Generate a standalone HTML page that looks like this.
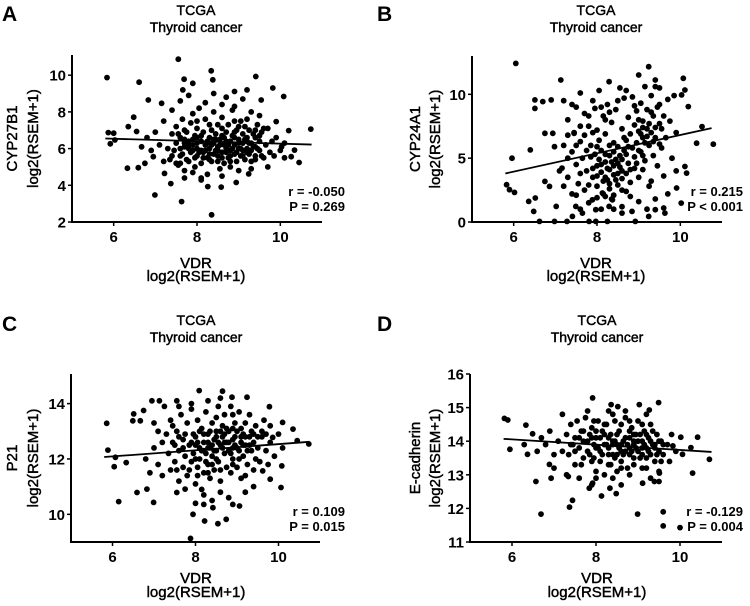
<!DOCTYPE html>
<html><head><meta charset="utf-8"><style>
html,body{margin:0;padding:0;background:#fff;}
svg{display:block;font-family:"Liberation Sans",Arial,sans-serif;}
.t{stroke:#000;stroke-width:0.45px;}
</style></head><body>
<svg id="fig" width="750" height="606" viewBox="0 0 750 606"></svg>
<script>
const xTicks=[6,8,10];
const yTicksA=[2,4,6,8,10], yTicksB=[0,5,10], yTicksC=[10,12,14], yTicksD=[11,12,13,14,15,16];
const yLabelA="CYP27B1", yLabelB="CYP24A1", yLabelC="P21", yLabelD="E-cadherin";
const statsA=["r = -0.050","P = 0.269"], statsB=["r = 0.215","P < 0.001"], statsC=["r = 0.109","P = 0.015"], statsD=["r = -0.129","P = 0.004"];
const fitA=[6.55,6.22], fitB=[3.8,7.35], fitC=[12.07,12.62], fitD=[14.07,13.68];
const pointsA=[[5.84,9.87],[5.87,6.87],[6,6.84],[5.92,6.26],[6.03,6.47],[6.61,9.62],[6.33,4.93],[6.59,4.96],[6.99,3.47],[7.55,10.87],[8.34,10.24],[8.38,9.75],[9.41,9.93],[9.82,9.3],[10.08,8.84],[10.73,7.06],[10.2,6.98],[10.45,5.24],[7.37,4.09],[7.63,3.11],[8.35,2.39],[8.58,3.9],[9.24,4.62],[8.94,4.15],[6.48,7.71],[6.83,8.65],[7.15,8.47],[7.69,9.78],[7.9,9.56],[7.66,9.2],[8.9,9.11],[9.2,9.2],[9.54,8.65],[9.9,7.47],[10.03,6.1],[10.34,5.92],[10.26,5.56],[9.7,5.0],[7.22,4.65],[8.1,4.29],[8.26,3.93],[6.95,5.56],[6.75,5.2],[6.67,6.1],[6.35,7.2],[6.55,6.93],
[7.3,6.0],[7.35,5.4],[7.4,6.8],[7.45,5.9],[7.5,6.3],[7.5,7.2],[7.55,5.1],[7.6,6.6],[7.6,5.6],[7.65,7.6],[7.7,6.1],[7.7,4.8],[7.75,6.9],[7.8,5.3],[7.8,6.4],[7.85,7.4],[7.9,5.9],[7.9,6.2],[7.95,5.0],[7.95,6.7],[8.0,5.6],[8.0,7.1],[8.0,6.0],[8.05,8.2],[8.1,5.2],[8.1,6.4],[8.15,6.9],[8.15,5.8],[8.2,6.2],[8.2,7.6],[8.25,5.5],[8.25,4.6],[8.3,6.6],[8.3,6.0],[8.35,7.0],[8.35,5.3],[8.4,6.3],[8.4,8.0],[8.45,5.9],[8.45,6.8],[8.5,5.6],[8.5,7.3],[8.5,6.1],[8.55,4.9],[8.55,6.5],[8.6,5.8],[8.6,7.7],[8.65,6.2],[8.65,5.2],[8.7,6.9],[8.7,6.0],[8.75,5.5],[8.75,7.3],[8.8,6.4],[8.8,5.9],[8.85,8.1],[8.85,6.7],[8.9,5.7],[8.9,6.2],[8.95,7.0],[8.95,5.3],[9.0,6.5],[9.0,6.0],[9.05,7.5],[9.05,5.6],[9.1,6.3],[9.1,6.8],[9.15,5.4],[9.15,7.2],[9.2,6.0],[9.2,6.6],[9.25,5.7],[9.25,7.0],[9.3,6.3],[9.3,5.3],[9.35,6.8],[9.4,6.1],[9.4,5.6],[9.45,7.3],[9.5,6.4],[9.5,5.9],[9.55,6.9],[9.6,5.5],[9.65,6.2],[9.7,7.1],[9.75,5.8],[9.8,6.4],[9.85,5.6],[9.9,6.6],[10.0,5.9],[10.1,6.3],[10.1,5.5],
[7.2,7.5],[7.1,6.2],[7.0,6.9],[6.9,5.9],[6.8,6.6],[7.2,5.3],[7.4,8.1],[7.6,8.6],[7.8,8.9],[7.9,7.9],[8.2,8.5],[8.4,9.0],[8.6,8.4],[8.7,8.8],[8.9,8.3],[9.1,8.7],[9.3,8.0],[9.5,7.8],[9.6,7.1],[9.3,4.9],[9.0,4.8],[8.8,5.0],[8.6,4.5],[8.1,4.4],[7.9,4.7],[7.7,4.4],[7.5,5.2],[8.3,5.7],[8.0,6.6],[8.9,6.9],[9.0,7.2],[8.4,6.5],[8.7,6.4],[8.6,6.7],[8.3,6.3],[8.1,5.9],[7.8,6.0],[7.7,6.3],[9.2,6.4],[9.4,6.6],[8.5,5.3],[8.8,5.6],[9.1,5.9],
[7.6,6.0],[7.65,5.7],[7.7,6.5],[7.75,5.4],[7.8,6.2],[7.85,5.8],[7.9,6.5],[7.95,5.5],[8.0,6.3],[8.05,5.8],[8.1,6.7],[8.15,5.5],[8.2,5.9],[8.25,6.4],[8.3,5.4],[8.35,6.2],[8.4,5.7],[8.45,6.5],[8.5,5.9],[8.55,6.2],[8.6,5.5],[8.65,6.6],[8.7,5.8],[8.75,6.2],[8.8,5.3],[8.85,6.0],[8.9,6.6],[8.95,5.8],[9.0,6.3],[9.05,6.0],[9.1,5.6],[9.15,6.5],[9.2,5.8],[9.25,6.3],[9.3,5.9],[9.35,6.1],[9.4,5.4],[9.45,6.0],[9.5,6.7],[9.55,5.6],[7.55,6.8],[7.7,7.0],[8.0,7.5],[8.3,7.3],[8.6,7.1],[8.9,7.5],[9.2,7.6],[9.4,7.0],[7.4,5.6],[7.6,5.2]];
const pointsB=[[5.83,2.92],[5.9,2.53],[6.02,2.32],[5.96,5.0],[6.05,12.42],[6.4,5.65],[6.51,9.56],[6.51,8.9],[6.7,9.43],[6.9,9.56],[7.13,11.12],[6.36,1.61],[6.48,0.83],[6.62,0.05],[6.52,1.88],[6.75,3.18],[6.86,2.79],[6.98,0.05],[7.02,1.22],[7.28,0.05],[6.98,5.9],[6.75,6.95],[6.94,6.95],[7.16,4.22],[7.45,6.95],[10.79,6.09],[10.39,6.17],[10.52,7.47],[10.03,9.95],[10.07,11.25],[10.11,10.34],[10.19,9.04],[10.11,4.35],[10.15,3.83],[10.02,1.48],[9.91,2.66],[9.4,11.12],[9.0,11.51],[9.24,12.16],[8.29,10.99],[9.63,0.7],[9.4,0.96],[9.24,0.44],[8.92,0.05],[8.84,0.83],[8.6,0.7],[8.25,0.05],[7.97,0.05],[7.81,0.05],[7.65,0.7],[7.97,0.96],[8.29,1.22],[8.37,1.74],[7.89,1.74],[7.41,0.44],[7.49,1.22],[8.13,2.27],
[7.3,3.5],[7.3,8.0],[7.4,5.5],[7.4,2.2],[7.45,7.0],[7.5,9.0],[7.5,4.5],[7.55,3.0],[7.6,6.3],[7.6,10.1],[7.65,5.0],[7.7,8.5],[7.7,2.5],[7.75,4.0],[7.8,7.5],[7.8,1.5],[7.85,6.0],[7.9,9.5],[7.9,3.5],[7.95,5.3],[8.0,4.4],[8.0,7.2],[8.0,2.8],[8.05,10.3],[8.05,6.4],[8.1,3.9],[8.1,5.6],[8.15,8.3],[8.15,2.2],[8.2,4.7],[8.2,6.9],[8.25,3.3],[8.25,9.2],[8.3,5.2],[8.3,4.1],[8.35,7.8],[8.35,1.8],[8.4,6.2],[8.4,3.7],[8.45,8.8],[8.45,4.9],[8.5,2.9],[8.5,5.9],[8.55,10.5],[8.55,4.3],[8.6,7.3],[8.6,3.4],[8.65,6.6],[8.65,9.7],[8.7,2.4],[8.7,5.3],[8.75,8.2],[8.75,4.6],[8.8,6.9],[8.8,3.1],[8.85,9.8],[8.85,5.8],[8.9,7.6],[8.9,4.2],[8.95,8.7],[8.95,6.2],[9.0,7.1],[9.0,3.5],[9.05,9.3],[9.05,5.5],[9.1,7.9],[9.1,6.6],[9.15,10.6],[9.15,4.8],[9.2,7.3],[9.2,8.8],[9.25,6.0],[9.25,2.8],[9.3,9.9],[9.3,7.0],[9.35,5.2],[9.35,8.3],[9.4,10.6],[9.4,6.6],[9.45,4.4],[9.5,7.7],[9.5,9.2],[9.55,5.8],[9.6,3.6],[9.6,8.3],[9.65,6.6],[9.7,2.2],[9.75,7.9],[9.8,5.0],[9.85,9.9],[9.9,4.0],[9.9,7.0],[9.7,9.6],[9.5,10.5],[8.2,8.0],[8.1,9.0],[7.9,7.0],[7.6,7.5],[7.4,9.2],[7.3,5.0],[7.2,6.0],[7.2,2.8],[7.1,4.0],[8.4,5.5],[8.6,4.9],[8.3,6.0],[8.0,5.9],[8.2,3.5],[8.5,3.8],[8.7,6.4],[8.9,5.1],[9.1,4.1],[9.3,3.2],[9.0,1.6],[8.8,2.0],[8.6,1.2],[8.4,1.0],[8.3,2.6],[8.1,1.0],[7.8,2.9],[7.6,1.0],[7.5,2.1],[9.2,1.0],[9.4,1.8],[9.6,1.1],
[8.0,3.6],[8.05,4.9],[8.1,4.5],[8.15,3.2],[8.2,5.3],[8.25,4.2],[8.3,3.0],[8.35,4.7],[8.4,4.4],[8.45,3.3],[8.5,4.6],[8.55,5.2],[8.6,4.0],[8.65,5.6],[8.7,3.8],[8.75,5.9],[7.9,4.2],[7.85,5.1],[7.75,5.6],[7.7,6.8],[7.8,8.3],[7.95,8.9],[8.3,8.6],[8.5,9.5],[8.7,10.3],[8.9,9.1],[9.0,8.0],[9.05,6.9],[9.1,7.4],[9.15,6.2],[9.2,6.7],[9.25,7.7],[9.3,8.6],[9.35,6.3],[9.4,7.4],[9.45,9.0],[9.5,6.1],[9.55,7.3],[9.0,5.6],[9.1,5.2],[8.95,4.6],[8.8,4.1],[8.6,2.5],[8.4,2.1],[8.2,2.0],[8.0,1.9],[7.6,3.8],[7.5,6.0],[7.3,6.8],[7.2,9.5]];
const pointsC=[[5.86,13.29],[5.89,12.32],[6.07,12.06],[6.04,11.72],[6.33,11.87],[6.15,10.46],[6.51,13.63],[6.49,13.38],[6.67,13.38],[6.59,10.79],[6.99,10.43],[6.83,10.91],[6.95,14.1],[7.13,14.1],[6.75,13.75],[7.55,14.1],[8.09,14.47],[8.65,14.45],[8.88,14.23],[9.24,14.23],[9.78,13.89],[7.88,9.13],[8.22,9.76],[8.54,9.66],[8.74,9.82],[7.94,10.0],[8.9,10.36],[9.06,10.3],[8.2,10.36],[8.42,10.24],[7.55,10.79],[7.75,10.91],[10.06,10.97],[10.08,11.75],[9.8,11.27],[9.62,11.57],[10.73,12.54],[10.45,12.66],[10.35,13.08],[10.1,13.32],[9.86,12.78],
[7.3,12.9],[7.35,12.2],[7.4,13.4],[7.4,11.6],[7.45,12.6],[7.5,11.9],[7.55,13.0],[7.6,12.3],[7.6,11.2],[7.65,13.6],[7.7,12.7],[7.7,11.7],[7.75,12.1],[7.8,13.3],[7.8,11.4],[7.85,12.5],[7.9,11.9],[7.9,13.8],[7.95,12.2],[8.0,11.1],[8.0,12.8],[8.05,13.4],[8.05,11.7],[8.1,12.4],[8.1,12.0],[8.15,13.1],[8.15,10.9],[8.2,12.6],[8.2,11.5],[8.25,13.7],[8.25,12.2],[8.3,11.8],[8.3,12.9],[8.35,12.4],[8.35,11.3],[8.4,13.3],[8.4,12.1],[8.45,12.7],[8.45,11.6],[8.5,13.0],[8.5,12.3],[8.55,13.9],[8.55,11.9],[8.6,12.5],[8.6,11.2],[8.65,13.2],[8.65,12.8],[8.7,12.2],[8.7,13.6],[8.75,11.7],[8.75,12.6],[8.8,13.0],[8.8,12.3],[8.85,13.9],[8.85,11.5],[8.9,12.7],[8.9,12.0],[8.95,13.3],[8.95,12.5],[9.0,11.7],[9.0,13.0],[9.05,12.3],[9.05,13.7],[9.1,12.6],[9.1,11.3],[9.15,12.9],[9.15,12.1],[9.2,13.3],[9.2,12.5],[9.25,11.8],[9.3,12.8],[9.3,13.6],[9.35,12.3],[9.4,12.9],[9.4,11.6],[9.45,13.2],[9.5,12.4],[9.55,11.9],[9.6,12.8],[9.65,13.4],[9.7,12.3],[9.75,11.8],[9.8,12.6],[9.9,12.1],[10.0,12.9],[10.1,12.4],[7.2,12.6],[7.1,13.0],[7.0,12.4],[6.9,11.5],[6.8,12.0],[7.2,11.4],[7.1,11.8],[7.0,13.3],[7.25,13.9],[7.6,13.9],[7.9,14.0],[8.3,14.1],[8.6,14.2],[8.8,10.6],[8.4,10.5],[8.2,10.7],[8.0,10.4],[8.6,10.8],[9.2,10.8],[9.4,11.0],[8.4,12.5],[8.7,12.9],[8.9,12.4],[8.3,12.6],[8.5,12.8],[9.1,12.8],[8.2,12.3],[8.0,12.5],
[7.9,12.6],[7.95,12.9],[8.0,12.0],[8.05,12.6],[8.1,13.0],[8.15,12.3],[8.2,12.9],[8.25,11.9],[8.3,12.4],[8.35,13.0],[8.4,11.8],[8.45,12.3],[8.5,12.0],[8.55,12.6],[8.6,13.0],[8.65,12.4],[8.7,12.6],[8.75,13.1],[8.8,12.6],[8.85,12.2],[8.9,13.1],[8.95,12.8],[9.0,12.4],[9.05,12.0],[9.1,13.1],[9.15,12.5],[9.2,12.8],[9.25,12.3],[9.3,12.5],[9.35,13.0],[9.4,12.6],[9.45,12.0],[9.5,12.8],[7.7,12.4],[7.75,12.9],[7.6,12.8],[7.5,12.5],[7.45,13.2],[7.55,11.6],[7.85,11.6],[8.05,11.4],[8.3,11.5],[8.6,11.6],[8.9,11.8],[9.2,11.4],[9.6,13.0],[9.7,12.9],[9.8,13.2],[8.5,13.5],[8.9,13.6]];
const pointsD=[[5.82,14.68],[5.9,14.63],[5.95,13.76],[6.33,14.48],[6.37,13.61],[6.57,12.8],[6.69,11.83],[6.49,14.22],[6.29,13.9],[6.89,13.31],[6.93,12.9],[7.34,12.95],[7.37,12.04],[7.44,12.24],[7.92,15.29],[8.36,15.09],[8.52,15.03],[9.03,15.09],[9.49,15.15],[9.27,14.93],[8.13,12.37],[8.48,12.44],[8.33,12.6],[7.84,12.6],[7.92,12.75],[8.99,11.83],[9.6,11.9],[9.6,11.48],[10.0,11.43],[10.7,13.46],[10.3,13.05],[10.42,14.12],[10.26,13.81],[10.06,13.61],[10.02,14.12],[9.83,13.86],[9.39,12.8],[9.11,12.75],[9.51,13.05],
[7.3,14.2],[7.35,13.6],[7.4,14.5],[7.45,13.9],[7.5,14.1],[7.5,13.3],[7.55,14.6],[7.6,13.8],[7.65,14.3],[7.7,13.5],[7.7,14.0],[7.75,14.7],[7.8,13.7],[7.85,14.2],[7.9,13.4],[7.9,14.4],[7.95,13.9],[8.0,13.1],[8.0,14.1],[8.05,14.6],[8.1,13.7],[8.1,13.4],[8.15,14.3],[8.2,13.9],[8.2,13.0],[8.25,14.5],[8.3,13.6],[8.3,14.1],[8.35,13.3],[8.4,14.8],[8.4,13.9],[8.45,13.5],[8.5,14.2],[8.5,13.1],[8.55,13.8],[8.6,14.5],[8.6,13.4],[8.65,14.0],[8.7,13.7],[8.7,14.7],[8.75,13.2],[8.8,14.1],[8.8,13.6],[8.85,14.4],[8.9,13.9],[8.9,13.3],[8.95,14.2],[9.0,13.7],[9.0,14.6],[9.05,13.5],[9.1,14.0],[9.1,13.2],[9.15,14.3],[9.2,13.8],[9.2,13.5],[9.25,14.1],[9.3,13.6],[9.3,14.5],[9.35,13.9],[9.4,13.4],[9.45,14.2],[9.5,13.7],[9.5,13.1],[9.55,14.0],[9.6,13.6],[9.7,13.9],[9.75,13.4],[9.8,14.2],[9.9,13.7],[7.2,13.7],[7.1,14.0],[7.0,13.6],[6.9,14.3],[6.8,13.9],[7.2,14.8],[7.0,13.2],[6.7,14.1],[6.6,13.7],[7.3,13.0],[7.6,12.9],[7.9,12.7],[8.0,12.9],[8.4,12.9],[8.6,12.7],[8.8,13.0],[9.3,12.9],[9.5,12.8],[7.8,14.9],[8.3,14.9],[8.7,14.9],[9.2,14.8],[8.4,14.0],[8.6,13.9],[8.9,14.0],[9.1,13.8],[8.2,14.2],[8.0,13.8],[8.5,13.6],[8.8,13.8],[9.4,13.9],
[7.8,14.0],[7.85,13.6],[7.9,14.1],[7.95,13.5],[8.0,14.3],[8.05,13.8],[8.1,14.1],[8.15,13.6],[8.2,14.5],[8.25,13.9],[8.3,13.8],[8.35,14.2],[8.4,13.6],[8.45,14.0],[8.5,13.9],[8.55,14.3],[8.6,13.7],[8.65,13.6],[8.7,14.1],[8.75,13.9],[8.8,14.3],[8.85,13.7],[8.9,14.2],[8.95,13.8],[9.0,14.0],[9.05,14.2],[9.1,13.6],[9.15,13.9],[9.2,14.2],[9.25,13.7],[9.3,14.0],[9.35,14.3],[9.4,13.8],[9.45,13.6],[9.5,14.0],[9.55,13.4],[9.6,13.9],[7.7,14.3],[7.6,14.1],[7.5,13.7],[7.4,13.9],[7.65,13.3],[8.3,13.3],[8.6,13.2],[8.9,13.5],[9.2,13.2],[8.45,14.6],[8.8,14.6],[9.1,14.5],[7.95,14.6]];

const NS="http://www.w3.org/2000/svg";
const svg=document.getElementById('fig');
function mk(tag,attrs,parent,text){const e=document.createElementNS(NS,tag);for(const k in attrs)e.setAttribute(k,attrs[k]);if(text!==undefined)e.textContent=text;(parent||svg).appendChild(e);return e;}

const panels=[
 {id:'a',letter:'A',lx:2,ax:72,ay:222,top:55,right:322,yMin:2,yMax:11.1,yt:yTicksA,lab:yLabelA,st:statsA,fit:fitA,pts:pointsA,cx:196,ylx:12,ylx2:33,sx:345,t1:46,t2:59},
 {id:'b',letter:'B',lx:377,ax:472,ay:222,top:56,right:722,yMin:0,yMax:13,yt:yTicksB,lab:yLabelB,st:statsB,fit:fitB,pts:pointsB,cx:596,ylx:415,ylx2:435,sx:743,t1:46,t2:59},
 {id:'c',letter:'C',lx:2,ax:71,ay:542,top:374,right:320,yMin:9,yMax:15.07,yt:yTicksC,lab:yLabelC,st:statsC,fit:fitC,pts:pointsC,cx:196,ylx:12,ylx2:33,sx:345,t1:41,t2:55},
 {id:'d',letter:'D',lx:377,ax:470,ay:542,top:374,right:722,yMin:11,yMax:16,yt:yTicksD,lab:yLabelD,st:statsD,fit:fitD,pts:pointsD,cx:597,ylx:415,ylx2:435,sx:743,t1:41,t2:55}
];

panels.forEach(p=>{
 const g=mk('g',{});
 
 
 const xs=v=>p.ax+(v-5)/(11-5)*(p.right-p.ax);
 const ys=v=>p.ay-(v-p.yMin)/(p.yMax-p.yMin)*(p.ay-p.top);
 const base=p.ay===222?0:310;
 const L=mk('text',{x:p.lx,y:base+21,'font-size':21,'font-weight':'bold'},g,p.letter);
 
 
 const t1=mk('text',{x:p.cx,y:base+15,'font-size':14,'text-anchor':'middle','class':'t'},g,'TCGA');
 
 
 const t2=mk('text',{x:p.cx,y:base+32,'font-size':14,'text-anchor':'middle','class':'t'},g,'Thyroid cancer');
 
 
 const pg=mk('g',{fill:'#000'},g);
 
 
 p.pts.forEach(d=>{
  const c=mk('circle',{cx:xs(d[0]).toFixed(1),cy:ys(d[1]).toFixed(1),r:2.9},pg);
  
  
 });
 const fl=mk('line',{x1:xs(5.8),y1:ys(p.fit[0]),x2:xs(10.75),y2:ys(p.fit[1]),stroke:'#000','stroke-width':1.8},g);
 
 
 const xa=mk('line',{x1:p.ax-1,y1:p.ay,x2:p.right,y2:p.ay,stroke:'#000','stroke-width':2},g);
 
 
 const ya=mk('line',{x1:p.ax,y1:p.top,x2:p.ax,y2:p.ay+1,stroke:'#000','stroke-width':2},g);
 
 
 xTicks.forEach(v=>{
  mk('line',{x1:xs(v),y1:p.ay,x2:xs(v),y2:p.ay+4,stroke:'#000','stroke-width':1.5},g);
  const tl=mk('text',{x:xs(v),y:p.ay+20,'font-size':15,'font-weight':'bold','text-anchor':'middle'},g,String(v));
  
  
 });
 p.yt.forEach(v=>{
  mk('line',{x1:p.ax-4,y1:ys(v),x2:p.ax,y2:ys(v),stroke:'#000','stroke-width':1.5},g);
  const tl=mk('text',{x:p.ax-6,y:ys(v)+5.5,'font-size':15,'font-weight':'bold','text-anchor':'end'},g,String(v));
  
  
 });
 const xt1=mk('text',{x:p.cx,y:p.ay+p.t1,'font-size':15,'text-anchor':'middle','class':'t'},g,'VDR');
 
 
 const xt2=mk('text',{x:p.cx,y:p.ay+p.t2,'font-size':15,'text-anchor':'middle','class':'t'},g,'log2(RSEM+1)');
 
 
 const ymid=(p.top+p.ay)/2;
 const yt1=mk('text',{x:0,y:0,'font-size':15,'text-anchor':'middle','class':'t',transform:`translate(${p.ylx+5},${ymid}) rotate(-90)`},g,p.lab);
 
 
 const yt2=mk('text',{x:0,y:0,'font-size':15,'text-anchor':'middle','class':'t',transform:`translate(${p.ylx2+5},${ymid}) rotate(-90)`},g,'log2(RSEM+1)');
 
 
 const s1=mk('text',{x:p.sx,y:p.ay-26,'font-size':13,'font-weight':'bold','text-anchor':'end'},g,p.st[0]);
 
 
 const s2=mk('text',{x:p.sx,y:p.ay-11,'font-size':13,'font-weight':'bold','text-anchor':'end'},g,p.st[1]);
 
 
});
</script>
</body></html>
